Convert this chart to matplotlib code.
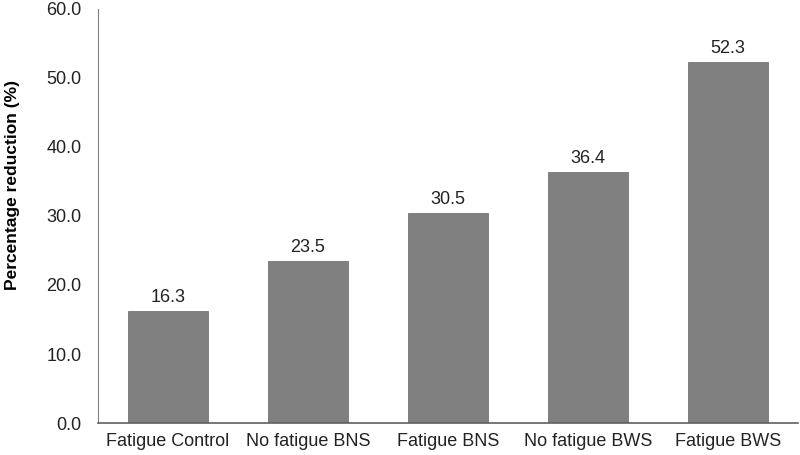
import matplotlib
matplotlib.use("Agg")
import matplotlib.pyplot as plt

categories = ["Fatigue Control", "No fatigue BNS", "Fatigue BNS", "No fatigue BWS", "Fatigue BWS"]
values = [16.3, 23.5, 30.5, 36.4, 52.3]
yticks = [0, 10, 20, 30, 40, 50, 60]

plt.rcParams['font.family'] = ['Liberation Sans', 'DejaVu Sans']

fig = plt.figure(figsize=(8, 4.55), dpi=100)
ax = fig.add_axes([0.1225, 0.0703, 0.875, 0.91])

x = range(len(categories))
bars = ax.bar(x, values, width=0.57, color="#808080", edgecolor="#767676", linewidth=0.6)
for xi, v in zip(x, values):
    ax.text(xi, v + 0.7, f"{v:.1f}", ha="center", va="bottom", fontsize=13, color="#222222")

ax.set_xlim(-0.5, len(categories) - 0.5)
ax.set_ylim(0, 60)
ax.set_yticks(yticks)
ax.set_yticklabels([f"{t:.1f}" for t in yticks], fontsize=13, color="#222222")
ax.set_xticks(list(x))
ax.set_xticklabels(categories, fontsize=13, color="#222222")
ax.tick_params(axis="both", length=0)
ax.tick_params(axis="x", pad=7)
ax.tick_params(axis="y", pad=12)
ax.set_ylabel("Percentage reduction (%)", fontsize=12.5, fontweight="bold")
ax.yaxis.set_label_coords(-0.112, 0.575)

for s in ["top", "right"]:
    ax.spines[s].set_visible(False)
ax.spines["left"].set_color("#808080")
ax.spines["bottom"].set_color("#606060")
ax.spines["bottom"].set_linewidth(1.2)

fig.savefig("out.png", dpi=100)
